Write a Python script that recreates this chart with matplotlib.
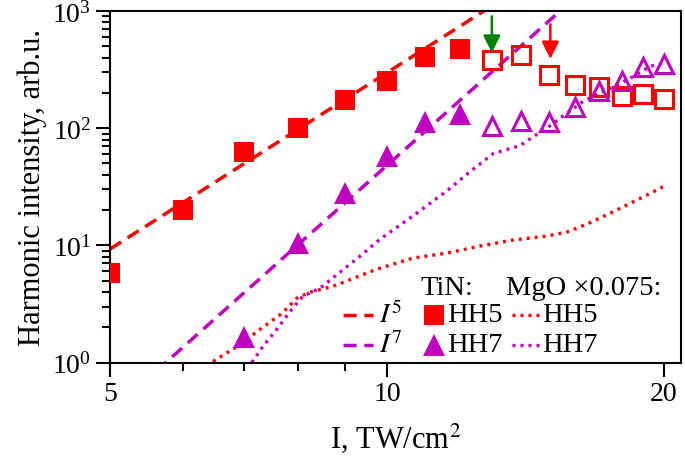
import numpy as np
import matplotlib
matplotlib.use("Agg")
import matplotlib.pyplot as plt
from matplotlib.ticker import FixedLocator, FixedFormatter, NullFormatter, LogLocator

plt.rcParams["font.family"] = ["Liberation Serif", "DejaVu Serif"]
plt.rcParams["mathtext.fontset"] = "stix"

# TiN, datos medidos (I en TW/cm2)
tin_x_fill = [5, 6, 7, 8, 9, 10, 11, 12]
tin_hh5_fill = [5.85, 20.1, 62.4, 100, 174, 251, 407, 476]
tin_x_open = [13, 14, 15, 16, 17, 18, 19, 20]
tin_hh5_open = [383, 423, 282, 232, 223, 190, 194, 179]

tin_x7_fill = [7, 8, 9, 10, 11, 12]
tin_hh7_fill = [1.64, 10.5, 28.1, 58.2, 112, 132]
tin_hh7_open = [104, 115, 112, 153, 208, 253, 331, 351]

# MgO x0.075, curvas punteadas
mgo5_x = [6.47, 6.87, 7.28, 7.69, 7.98, 8.25, 8.74, 9.75, 10.67, 11.62,
          12.62, 13.71, 14.92, 15.69, 16.5, 17.6, 18.8, 19.95]
mgo5_y = [1.02, 1.37, 1.92, 2.63, 3.54, 3.98, 4.48, 6.26, 7.78, 8.59,
          9.86, 11.1, 12.0, 13.0, 15.2, 19.3, 24.9, 31.6]
mgo7_x = [7.13, 7.33, 7.59, 7.85, 8.1, 8.46, 8.89, 9.35, 9.83, 10.67,
          11.62, 12.31, 13.04, 13.95, 15.04, 16.33, 17.47, 18.37, 19.31, 19.95]
mgo7_y = [1.0, 1.37, 1.92, 2.74, 3.68, 4.31, 5.9, 8.09, 11.3, 17.8,
          29.2, 42.5, 60.6, 71, 105, 169, 218, 266, 337, 358]

# ajustes I^5 e I^7
fit5_amp = 9.3     # valor en I = 5
fit7_i0 = 5.75     # I donde I^7 vale 1
fit_x = np.linspace(5, 21, 200)
fit5_y = fit5_amp * (fit_x / 5) ** 5
fit7_y = (fit_x / fit7_i0) ** 7

# flechas: (I, inicio, punta)
arrow_green = (13.0, 900, 440)
arrow_red = (15.05, 770, 390)

x_ticks = [5, 10, 20]
x_minor = [6, 7, 8, 9]

red = "#ff0000"
purple = "#c000c0"
dash = (0, (3.8, 2.2))
dots = (0, (0.9, 1.5))

fig = plt.figure(figsize=(6.85, 4.6), dpi=100)
ax = fig.add_axes([110 / 685, 96.5 / 460, 571 / 685, 351.5 / 460])

ax.plot(fit_x, fit5_y, color=red, lw=2.5, ls=dash)
ax.plot(fit_x, fit7_y, color=purple, lw=2.5, ls=dash)
ax.plot(mgo5_x, mgo5_y, color=red, lw=2.4, ls=dots)
ax.plot(mgo7_x, mgo7_y, color=purple, lw=2.4, ls=dots)

ax.plot(tin_x_fill, tin_hh5_fill, "s", color=red, ms=15, mew=0, zorder=3)
ax.plot(tin_x_open, tin_hh5_open, "s", mfc="none", mec=red, ms=12.5, mew=2.2, zorder=3)
ax.plot(tin_x7_fill, tin_hh7_fill, "^", color=purple, ms=16, mew=0, zorder=3)
ax.plot(tin_x_open, tin_hh7_open, "^", mfc="none", mec=purple, ms=13, mew=2.2, zorder=3)

for (ax_x, y0, y1), col in [(arrow_green, "green"), (arrow_red, red)]:
    ax.annotate("", xy=(ax_x, y1), xytext=(ax_x, y0),
                arrowprops=dict(arrowstyle="-|>", color=col, lw=1.8, mutation_scale=26,
                                shrinkA=0, shrinkB=0))

ax.set_xscale("log")
ax.set_yscale("log")
ax.set_xlim(5, 20.87)
ax.set_ylim(1, 1000)

ax.xaxis.set_major_locator(FixedLocator(x_ticks))
ax.xaxis.set_major_formatter(FixedFormatter([str(t) for t in x_ticks]))
ax.xaxis.set_minor_locator(FixedLocator(x_minor))
ax.xaxis.set_minor_formatter(NullFormatter())
ax.yaxis.set_major_locator(LogLocator(base=10, numticks=10))
ax.yaxis.set_minor_locator(LogLocator(base=10, subs=np.arange(2, 10), numticks=10))
ax.yaxis.set_minor_formatter(NullFormatter())

ax.tick_params(which="major", length=10, width=1.5, labelsize=20, direction="out")
ax.tick_params(which="minor", length=6, width=1.5, direction="out")
for s in ax.spines.values():
    s.set_linewidth(1.5)

ax.set_xlabel("I, TW/cm$^2$", fontsize=22, labelpad=10)
ax.set_ylabel("Harmonic intensity, arb.u.", fontsize=22, labelpad=4)

# leyenda hecha a mano
fs = 20.5
tr = ax.transAxes
ax.text(0.543, 0.214, "TiN:", transform=tr, fontsize=fs, va="center")
ax.text(0.693, 0.214, "MgO \u00d70.075:", transform=tr, fontsize=fs, va="center")
rows = [(0.136, red, "s", 15, "$I^5$", "HH5"), (0.051, purple, "^", 16, "$I^7$", "HH7")]
for fy, col, mk, msz, lab, hh in rows:
    ax.plot([0.408, 0.461], [fy, fy], transform=tr, color=col, lw=2.5, ls=dash)
    ax.text(0.471, fy, lab, transform=tr, fontsize=fs, va="center")
    ax.plot([0.567], [fy], mk, transform=tr, color=col, ms=msz, mew=0)
    ax.text(0.590, fy, hh, transform=tr, fontsize=fs, va="center")
    ax.plot([0.704, 0.755], [fy, fy], transform=tr, color=col, lw=2.4, ls=dots)
    ax.text(0.756, fy, hh, transform=tr, fontsize=fs, va="center")

fig.savefig("out.png", dpi=100)
